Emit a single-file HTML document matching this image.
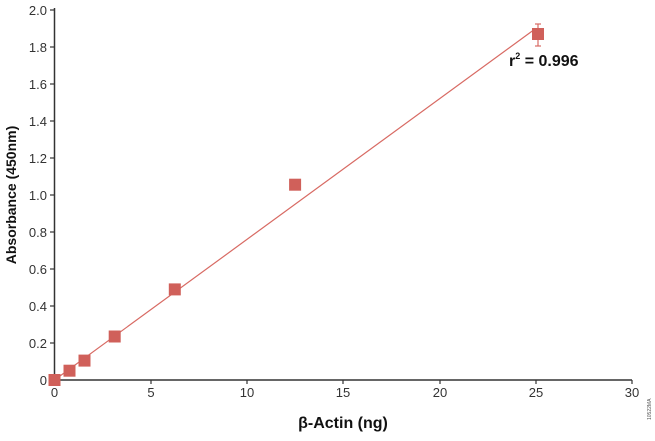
<!DOCTYPE html>
<html><head><style>body{margin:0;background:#fff}</style></head><body>
<svg width="655" height="436" xmlns="http://www.w3.org/2000/svg" font-family="Liberation Sans, sans-serif">
<g stroke="#333" stroke-width="1.5" fill="none">
<line x1="54.5" y1="8" x2="54.5" y2="380"/>
<line x1="54.5" y1="380" x2="632" y2="380"/>
</g>
<g stroke="#333" stroke-width="1.2">
<line x1="50" y1="10" x2="54.5" y2="10"/><line x1="50" y1="47" x2="54.5" y2="47"/><line x1="50" y1="84" x2="54.5" y2="84"/><line x1="50" y1="121" x2="54.5" y2="121"/><line x1="50" y1="158" x2="54.5" y2="158"/><line x1="50" y1="195" x2="54.5" y2="195"/><line x1="50" y1="232" x2="54.5" y2="232"/><line x1="50" y1="269" x2="54.5" y2="269"/><line x1="50" y1="306" x2="54.5" y2="306"/><line x1="50" y1="343" x2="54.5" y2="343"/>
<line x1="151" y1="380" x2="151" y2="384"/><line x1="247" y1="380" x2="247" y2="384"/><line x1="343" y1="380" x2="343" y2="384"/><line x1="440" y1="380" x2="440" y2="384"/><line x1="536" y1="380" x2="536" y2="384"/><line x1="632" y1="380" x2="632" y2="384"/>
</g>
<g font-size="13" fill="#333" text-anchor="end">
<text x="47" y="15">2.0</text><text x="47" y="52">1.8</text><text x="47" y="89">1.6</text><text x="47" y="126">1.4</text><text x="47" y="163">1.2</text><text x="47" y="200">1.0</text><text x="47" y="237">0.8</text><text x="47" y="274">0.6</text><text x="47" y="311">0.4</text><text x="47" y="348">0.2</text><text x="47" y="385">0</text>
</g>
<g font-size="13" fill="#333" text-anchor="middle">
<text x="54.5" y="397">0</text><text x="151" y="397">5</text><text x="247" y="397">10</text><text x="343" y="397">15</text><text x="440" y="397">20</text><text x="536" y="397">25</text><text x="632" y="397">30</text>
</g>
<text x="343" y="428" font-size="16" font-weight="bold" text-anchor="middle" fill="#111">β-Actin (ng)</text>
<text transform="translate(16,195) rotate(-90)" font-size="14" font-weight="bold" text-anchor="middle" fill="#111">Absorbance (450nm)</text>
<line x1="54.5" y1="380" x2="535.7" y2="28.5" stroke="#d86a63" stroke-width="1.2"/>
<g stroke="#d86a63" stroke-width="1.2"><line x1="538" y1="24" x2="538" y2="46"/><line x1="535" y1="24" x2="541" y2="24"/><line x1="535" y1="46" x2="541" y2="46"/></g>
<g fill="#d0605a">
<rect x="48.5" y="374" width="12" height="12"/><rect x="63.5" y="364.7" width="12" height="12"/><rect x="78.5" y="354.6" width="12" height="12"/><rect x="108.7" y="330.5" width="12" height="12"/><rect x="168.8" y="283.4" width="12" height="12"/><rect x="289.1" y="178.7" width="12" height="12"/><rect x="532" y="28" width="12" height="12"/>
</g>
<text x="509" y="66" font-size="16" font-weight="bold" fill="#111">r<tspan font-size="9" dy="-7">2</tspan><tspan dy="7"> = 0.996</tspan></text>
<text transform="translate(651,420) rotate(-90)" font-size="5" fill="#555">10522MA</text>
</svg>
</body></html>
